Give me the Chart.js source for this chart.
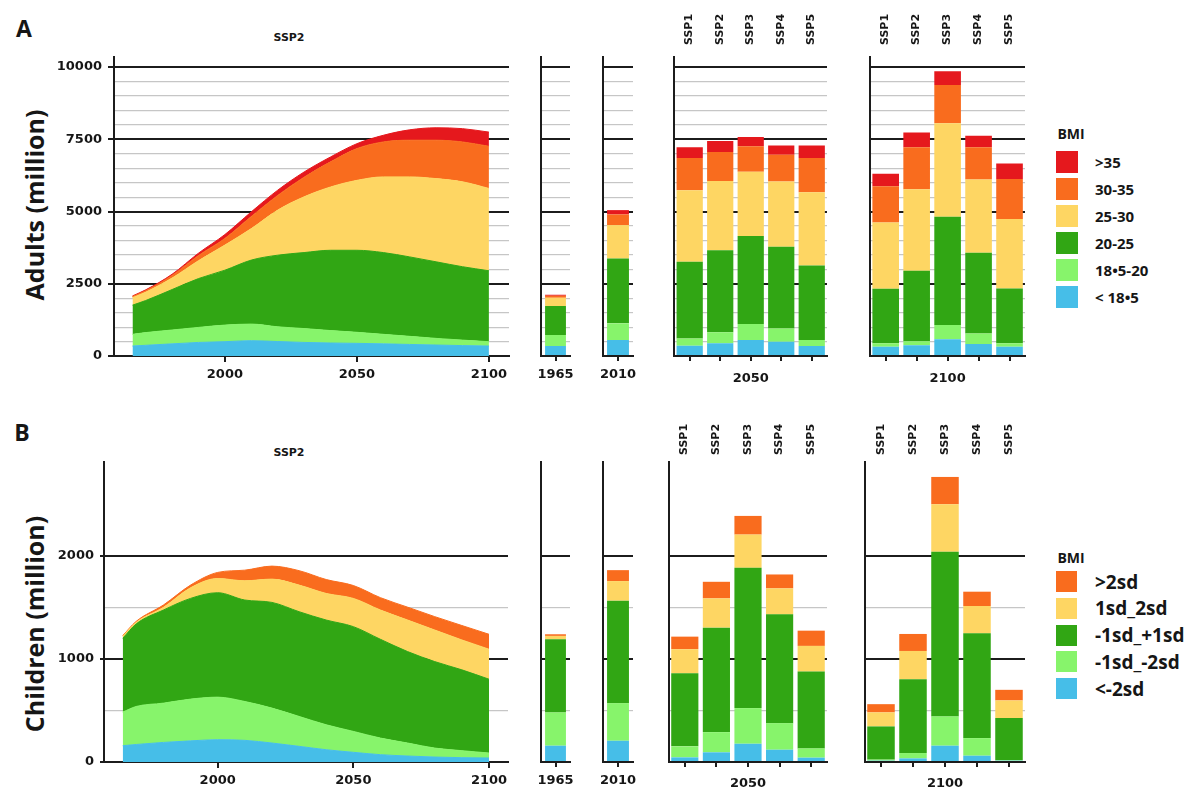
<!DOCTYPE html>
<html>
<head>
<meta charset="utf-8">
<script src="https://cdn.jsdelivr.net/npm/chart.js@4.4.1/dist/chart.umd.min.js"></script>
<style>
  body { margin: 0; background: #fff; }
  #page { position: relative; width: 1195px; height: 791px; overflow: hidden; background: #fff; }
  #page canvas { position: absolute; }
  .c { position: absolute; transform: translate(-50%, -50%); line-height: 1; white-space: nowrap; font-weight: bold; color: #161616; }
  .rot { transform: translate(-50%, -50%) rotate(-90deg); }
  .sw { position: absolute; }
  .lg { position: absolute; transform: translateY(-50%); line-height: 1; white-space: nowrap; font-weight: bold; color: #161616; font-family: 'Open Sans', sans-serif; }
</style>
</head>
<body>
<div id="page">
  <div class="c" style="left:24px;top:28px;font:bold 23px 'Open Sans'">A</div>
  <div class="c" style="left:22px;top:432px;font:bold 23px 'Open Sans'">B</div>
  <div class="c" style="left:289px;top:37px;font:bold 11px 'DejaVu Sans'">SSP2</div>
  <div class="c" style="left:289px;top:452px;font:bold 11px 'DejaVu Sans'">SSP2</div>
  <div class="c rot" style="left:34px;top:205px;font:bold 25px 'Open Sans'">Adults (million)</div>
  <div class="c rot" style="left:34px;top:624px;font:bold 25px 'Open Sans'">Children (million)</div>
</div>
<script>
// SSP2 trajectory years
const years = [1965, 1970, 1980, 1990, 2000, 2010, 2020, 2030, 2040, 2050, 2060, 2070, 2080, 2090, 2100];
const yearTicks = [2000, 2050, 2100];
const ssp = ['SSP1', 'SSP2', 'SSP3', 'SSP4', 'SSP5'];

// labelled value ticks (grey lines every 500 in between)
const adultTicks = [0, 2500, 5000, 7500, 10000];
const childTicks = [0, 1000, 2000];

// BMI classes, bottom to top
const adultClasses = ['< 18•5', '18•5-20', '20-25', '25-30', '30-35', '>35'];
const childClasses = ['<-2sd', '-1sd_-2sd', '-1sd_+1sd', '1sd_2sd', '>2sd'];
const adultColors = ['#46bee8', '#87f46b', '#31a614', '#fed663', '#f96c1e', '#e5181d'];
const childColors = ['#46bee8', '#87f46b', '#31a614', '#fed663', '#f96c1e'];

// adults, SSP2 trajectory (million), one array per BMI class
const adultUnder185 = [345, 370, 420, 470, 495, 530, 500, 470, 450, 438, 420, 400, 380, 360, 345];
const adult185to20 = [405, 440, 480, 520, 575, 575, 510, 480, 430, 382, 330, 280, 230, 190, 150];
const adult20to25 = [1010, 1110, 1400, 1690, 1900, 2215, 2480, 2630, 2780, 2840, 2830, 2750, 2650, 2540, 2455];
const adult25to30 = [260, 290, 400, 620, 870, 1090, 1560, 1930, 2190, 2420, 2620, 2770, 2880, 2940, 2850];
const adult30to35 = [40, 50, 90, 180, 230, 420, 510, 680, 870, 1100, 1210, 1270, 1330, 1380, 1460];
const adultOver35 = [20, 30, 40, 80, 135, 160, 180, 180, 170, 170, 230, 360, 430, 460, 490];

// adults, single years (one value per class)
const adult1965 = [346, 380, 1004, 286, 69, 35];
const adult2010 = [553, 577, 2245, 1155, 370, 150];
// adults by scenario: rows = class, columns = SSP1..SSP5
const adult2050 = [
  [357, 438, 553, 495, 346],
  [253, 380, 553, 461, 207],
  [2650, 2842, 3044, 2824, 2577],
  [2480, 2400, 2230, 2260, 2540],
  [1110, 1000, 880, 930, 1180],
  [380, 380, 320, 320, 440]
];
const adult2100 = [
  [323, 369, 576, 415, 323],
  [115, 138, 495, 368, 115],
  [1892, 2443, 3749, 2787, 1902],
  [2290, 2820, 3240, 2540, 2400],
  [1260, 1460, 1320, 1120, 1390],
  [430, 510, 480, 390, 530]
];

// children, SSP2 trajectory (million)
const childUnder2sd = [158, 170, 190, 205, 216, 210, 184, 152, 119, 94, 71, 58, 48, 42, 39];
const childMinus1to2 = [326, 369, 381, 405, 413, 377, 339, 290, 242, 203, 161, 126, 87, 68, 48];
const childNormal = [716, 801, 903, 977, 1013, 984, 1025, 1016, 1016, 1016, 958, 887, 839, 784, 716];
const childPlus1to2 = [20, 15, 26, 103, 138, 187, 226, 258, 258, 274, 284, 306, 306, 290, 291];
const childOver2sd = [6, 10, 23, 26, 59, 103, 126, 140, 135, 125, 120, 125, 130, 140, 145];

const child1965 = [158, 323, 709, 33, 16];
const child2010 = [206, 365, 994, 190, 106];
const child2050 = [
  [45, 94, 177, 119, 42],
  [107, 196, 346, 258, 90],
  [709, 1013, 1361, 1055, 745],
  [233, 284, 322, 252, 249],
  [122, 161, 181, 135, 148]
];
const child2100 = [
  [13, 35, 158, 61, 13],
  [10, 52, 284, 171, 6],
  [322, 716, 1597, 1016, 407],
  [136, 274, 461, 265, 171],
  [80, 165, 265, 139, 103]
];

const BLACK = '#1c1c1c';
const GREY = '#c6c6c6';
const tickFont = { family: 'DejaVu Sans', weight: 'bold', size: 13 };
Chart.defaults.font.family = 'DejaVu Sans';

const page = document.getElementById('page');

function addCanvas(left, top, w, h) {
  const cv = document.createElement('canvas');
  cv.width = w; cv.height = h;
  cv.style.left = left + 'px'; cv.style.top = top + 'px';
  cv.style.width = w + 'px'; cv.style.height = h + 'px';
  page.appendChild(cv);
  return cv;
}

function yScale(ax, width, withLabels) {
  const major = v => ax.labels.includes(v);
  return {
    stacked: true, min: 0, max: ax.max,
    afterFit: s => { s.width = width; },
    afterBuildTicks: s => {
      const t = [];
      for (let v = 0; v <= ax.labels[ax.labels.length - 1]; v += ax.minor) t.push({ value: v });
      s.ticks = t;
    },
    border: { color: BLACK, width: 2 },
    ticks: {
      display: withLabels, autoSkip: false,
      padding: 6, color: '#161616', font: tickFont,
      callback: v => major(v) ? v : ''
    },
    grid: {
      color: c => major(c.tick.value) ? BLACK : GREY,
      lineWidth: c => major(c.tick.value) ? 2 : 1.2,
      drawTicks: withLabels, tickLength: ax.tickLen,
      tickColor: c => major(c.tick.value) ? BLACK : 'rgba(0,0,0,0)'
    }
  };
}

function baseOptions(padTop, padRight) {
  return {
    responsive: false, animation: false, devicePixelRatio: 1,
    layout: { padding: { top: padTop, right: padRight, left: 0, bottom: 0 } },
    plugins: { legend: { display: false }, tooltip: { enabled: false } },
    events: []
  };
}

function areaPanel(p, layers, names, colors, ax) {
  const cv = addCanvas(p.left, p.top, p.w, p.h);
  const opts = baseOptions(p.padTop, p.padRight);
  opts.scales = {
    x: {
      type: 'linear', min: p.xMin, max: p.xMax,
      afterBuildTicks: s => { s.ticks = yearTicks.map(v => ({ value: v })); },
      afterFit: s => { s.height = p.bottomH; },
      border: { color: BLACK, width: 2 },
      grid: { drawOnChartArea: false, color: BLACK, lineWidth: 2, tickLength: 6 },
      ticks: { font: tickFont, color: '#161616', padding: 5, maxRotation: 0, callback: v => v }
    },
    y: yScale(ax, p.yW, true)
  };
  new Chart(cv, {
    type: 'line',
    data: {
      datasets: layers.map((vals, i) => ({
        label: names[i],
        data: years.map((yr, j) => ({ x: yr, y: vals[j] })),
        backgroundColor: colors[i], borderColor: colors[i], borderWidth: 1,
        pointRadius: 0, fill: i === 0 ? 'origin' : '-1',
        cubicInterpolationMode: 'monotone'
      }))
    },
    options: opts
  });
}

function barPanel(p, cats, layers, names, colors, ax) {
  const cv = addCanvas(p.left, p.top, p.w, p.h);
  const opts = baseOptions(p.sspLabels ? 0 : p.padTop, p.padRight);
  const single = !p.sspLabels; // one bar, its year is the tick label
  opts.scales = {
    x: {
      type: 'category', stacked: true, offset: true,
      afterFit: s => { s.height = p.bottomH; s.paddingLeft = 0; s.paddingRight = 0; },
      border: { color: BLACK, width: 2 },
      grid: { offset: false, drawOnChartArea: false, color: BLACK, lineWidth: 2, tickLength: 5 },
      ticks: { display: single, font: tickFont, color: '#161616', padding: 6, maxRotation: 0, autoSkip: false },
      title: { display: !single, text: p.title, font: tickFont, color: '#161616', padding: { top: 0, bottom: p.titlePad } }
    },
    y: yScale(ax, p.yW, false)
  };
  if (p.sspLabels) {
    opts.scales.x2 = {
      type: 'category', position: 'top', labels: p.sspLabels, offset: true,
      afterFit: s => { s.height = p.padTop; },
      border: { display: false },
      grid: { display: false, drawTicks: false },
      ticks: { minRotation: 90, maxRotation: 90, padding: p.sspPad, labelOffset: 13, color: '#161616',
        font: { family: 'DejaVu Sans', weight: 'bold', size: 11 } }
    };
  }
  new Chart(cv, {
    type: 'bar',
    data: {
      labels: cats,
      datasets: layers.map((vals, i) => ({
        label: names[i], data: vals, backgroundColor: colors[i], borderWidth: 0,
        barPercentage: p.bar, categoryPercentage: 1
      }))
    },
    options: opts
  });
}

// value axes
const adultAxis = { max: 10350, labels: adultTicks, minor: 500, tickLen: 6 };
const childAxis = { max: 2910, labels: childTicks, minor: 500, tickLen: 4 };

// one column for each single value, for the 1965 / 2010 bars
const col = arr => arr.map(v => [v]);

// row A
const rowA = { top: 0, h: 395, padTop: 57, bottomH: 39, titlePad: 9, sspPad: 12 };
areaPanel({ ...rowA, left: 0, w: 515, yW: 114, padRight: 6, xMin: 1958, xMax: 2107.6 },
  [adultUnder185, adult185to20, adult20to25, adult25to30, adult30to35, adultOver35],
  adultClasses, adultColors, adultAxis);
barPanel({ ...rowA, left: 536, w: 40, yW: 5, padRight: 6, bar: 0.72 }, ['1965'], col(adult1965), adultClasses, adultColors, adultAxis);
barPanel({ ...rowA, left: 598, w: 40, yW: 5, padRight: 5, bar: 0.73 }, ['2010'], col(adult2010), adultClasses, adultColors, adultAxis);
barPanel({ ...rowA, left: 664, w: 168, yW: 5, padRight: 5, bar: 0.86, title: '2050', sspLabels: ssp }, ssp, adult2050, adultClasses, adultColors, adultAxis);
barPanel({ ...rowA, left: 860, w: 170, yW: 5, padRight: 5, bar: 0.86, title: '2100', sspLabels: ssp }, ssp, adult2100, adultClasses, adultColors, adultAxis);

// row B
const rowB = { top: 395, h: 396, padTop: 67, bottomH: 29, titlePad: 0, sspPad: 7 };
areaPanel({ ...rowB, left: 0, w: 514, yW: 104, padRight: 6, xMin: 1958.1, xMax: 2107 },
  [childUnder2sd, childMinus1to2, childNormal, childPlus1to2, childOver2sd],
  childClasses, childColors, childAxis);
barPanel({ ...rowB, left: 536, w: 40, yW: 5, padRight: 6, bar: 0.72 }, ['1965'], col(child1965), childClasses, childColors, childAxis);
barPanel({ ...rowB, left: 598, w: 40, yW: 5, padRight: 5, bar: 0.73 }, ['2010'], col(child2010), childClasses, childColors, childAxis);
barPanel({ ...rowB, left: 664, w: 168, yW: 5, padRight: 5, bar: 0.86, title: '2050', sspLabels: ssp }, ssp, child2050, childClasses, childColors, childAxis);
barPanel({ ...rowB, left: 860, w: 170, yW: 5, padRight: 5, bar: 0.86, title: '2100', sspLabels: ssp }, ssp, child2100, childClasses, childColors, childAxis);

// legends (top entry = highest class)
function legend(x, titleY, firstY, step, size, fontSize, names, colors) {
  const t = document.createElement('div');
  t.className = 'c';
  t.style.cssText = `left:${x + 15}px;top:${titleY}px;font:bold 14px 'Open Sans'`;
  t.textContent = 'BMI';
  page.appendChild(t);
  names.slice().reverse().forEach((name, i) => {
    const y = firstY + i * step;
    const sw = document.createElement('div');
    sw.className = 'sw';
    sw.style.cssText = `left:${x}px;top:${y}px;width:${size}px;height:${size}px;background:${colors[colors.length - 1 - i]}`;
    page.appendChild(sw);
    const lb = document.createElement('div');
    lb.className = 'lg';
    lb.style.cssText = `left:${x + 39}px;top:${y + size / 2}px;font-size:${fontSize}px`;
    lb.textContent = name;
    page.appendChild(lb);
  });
}
legend(1056, 133, 151, 27, 22, 15, adultClasses, adultColors);
legend(1056, 557, 571, 26.75, 21, 19, childClasses, childColors);
</script>
</body>
</html>
